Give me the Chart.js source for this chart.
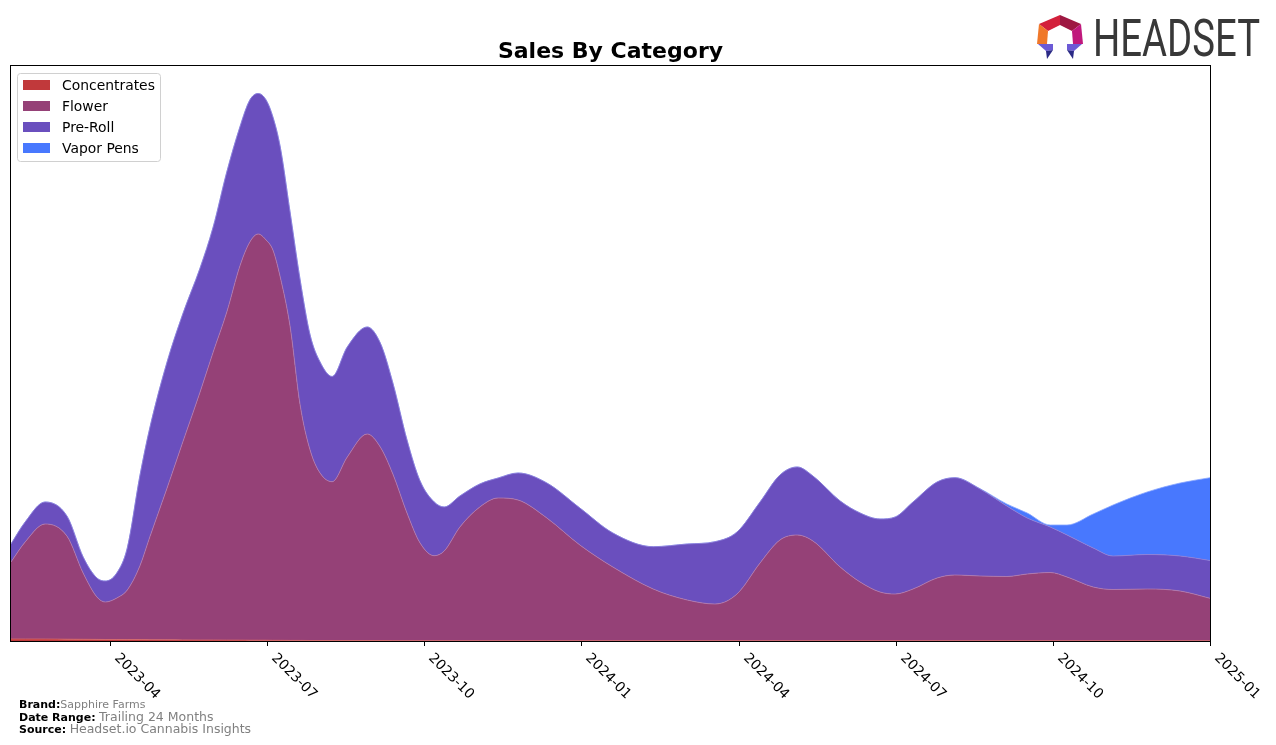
<!DOCTYPE html>
<html><head><meta charset="utf-8">
<script src="https://cdn.jsdelivr.net/npm/chart.js@4.4.1/dist/chart.umd.min.js"></script>
<style>
html,body{margin:0;padding:0;background:#fff;}
#wrap{position:relative;width:1276px;height:745px;overflow:hidden;font-family:"DejaVu Sans",sans-serif;}
#c{position:absolute;left:0;top:0;}
#title{position:absolute;left:11px;width:1199px;top:38px;text-align:center;font-weight:bold;font-size:22px;line-height:26px;color:#000;}
.foot{position:absolute;left:19px;font-size:11px;line-height:12px;color:#808080;white-space:nowrap;}
.foot b{color:#000;}
.big{font-size:12.5px;}
#logo{position:absolute;left:0;top:0;}
</style></head><body>
<div id="wrap">
<canvas id="c" width="1276" height="745"></canvas>
<div id="title">Sales By Category</div>
<div class="foot" style="top:699px"><b>Brand:</b>Sapphire Farms</div>
<div class="foot" style="top:711px"><b>Date Range:</b> <span class="big">Trailing 24 Months</span></div>
<div class="foot" style="top:723px"><b>Source:</b> <span class="big">Headset.io Cannabis Insights</span></div>
<svg id="logo" width="1276" height="70" viewBox="0 0 1276 70">
  <polygon points="1060,15 1060,25 1048,31 1039,24" fill="#d3203b"/>
  <polygon points="1060,15 1081,24 1072,31 1060,25" fill="#9e1842"/>
  <polygon points="1039,24 1048,31 1047,44 1037,44" fill="#f0782a"/>
  <polygon points="1081,24 1083,44 1073,44 1072,31" fill="#c0187c"/>
  <polygon points="1038,44 1053,44 1053,50 1046,51" fill="#6c5ad6"/>
  <polygon points="1046,51 1053,50 1047,59" fill="#2b2a86"/>
  <polygon points="1082,44 1067,44 1067,50 1074,51" fill="#6c5ad6"/>
  <polygon points="1074,51 1067,50 1073,59" fill="#2b2a86"/>
  <text x="1093" y="56" font-family="Roboto" font-weight="400" font-size="51" fill="#383838" textLength="167" lengthAdjust="spacingAndGlyphs">HEADSET</text>
</svg>
</div>
<script>
const categories = ['Concentrates', 'Flower', 'Pre-Roll', 'Vapor Pens'];
const colors = ['#c1393b', '#954177', '#6a4fbe', '#4878fe'];
const edgeColors = ['#d76a6a', '#b07ab0', '#8f7fd8', '#86a4ff'];
// x positions: months since 2023-01 (2023-04 = 3 ... 2025-01 = 24)
const months = [1.11,1.38,1.76,2.18,2.49,2.75,2.91,3.13,3.33,3.57,3.76,4.09,4.39,4.72,4.97,5.23,5.48,5.67,5.83,5.98,6.11,6.25,6.44,6.63,6.82,7.01,7.24,7.53,7.91,8.16,8.40,8.67,8.92,9.19,9.38,9.68,10.06,10.41,10.79,11.34,11.97,12.60,13.37,14.02,14.55,14.97,15.41,15.79,16.12,16.42,16.94,17.32,17.70,17.99,18.33,18.79,19.13,19.61,20.12,20.51,20.95,21.27,21.77,22.15,22.80,23.43,24.00];
const concentrates = [2,2,2,1.8,1.7,1.6,1.5,1.5,1.4,1.4,1.3,1.2,1.1,1,1,0.9,0.9,0.8,0.8,0.8,0.7,0.7,0.6,0.6,0.5,0.5,0.5,0.4,0.4,0.4,0.3,0.3,0.3,0.3,0.3,0.2,0.2,0.2,0.2,0.2,0.2,0.2,0.2,0.2,0.2,0.2,0.2,0.2,0.2,0.2,0.2,0.2,0.2,0.2,0.2,0.2,0.2,0.2,0.2,0.2,0.2,0.2,0.2,0.2,0.2,0.2,0.2];
const flower = [77,97,115,103,66,42.4,37.5,41.5,49.6,73.6,102.7,151.8,197.9,248,288,328.1,374.1,398.2,406.2,400.2,390.3,363.3,313.4,235.4,190.5,167.5,158.8,183.6,206.6,193.6,166.7,127.7,97.7,85,89.7,113.8,133.8,142.8,140.8,122.8,95.8,73.8,51.8,40.8,36.8,46.8,77.8,100.8,105.8,99.8,73.8,58.8,48.8,46.8,51.8,62.8,65.8,64.8,64.3,66.8,68.3,63.8,53.8,51.3,51.8,49.8,42.5];
const preRoll = [18,20,22,20,16,19,21,25,42,90,109,126,128,124,125,140,139,142,140.5,140,133,130,114,125,115,111,105.2,110,107,104,91,73,62,53.7,44,31,23,20,27,35,37,34,42.3,56,62.3,62,61,65,68,65,66,69,73,77,87,96,97.3,87,70.5,56,45.5,42,39,33.5,34.5,35,37.8];
const vaporPens = [0,0,0,0,0,0,0,0,0,0,0,0,0,0,0,0,0,0,0,0,0,0,0,0,0,0,0,0,0,0,0,0,0,0,0,0,0,0,0,0,0,0,0,0,0,0,0,0,0,0,0,0,0,0,0,0,0,0.3,2,5,2,10,34,51,62.5,73,82.8];
const tickMonths = [3,6,9,12,15,18,21,24];
const tickLabels = ['2023-04','2023-07','2023-10','2024-01','2024-04','2024-07','2024-10','2025-01'];
const xMin = 1.11, xMax = 24, yMax = 575;

const series = [concentrates, flower, preRoll, vaporPens];
const datasets = series.map((vals, i) => ({
  label: categories[i],
  data: vals.map((v, j) => ({x: months[j], y: v})),
  backgroundColor: colors[i],
  borderColor: edgeColors[i],
  borderWidth: 0.8,
  fill: i === 0 ? 'origin' : '-1',
  pointRadius: 0,
  cubicInterpolationMode: 'monotone'
}));

const overlay = {
  id: 'overlay',
  afterDraw(chart) {
    const {ctx, chartArea: a, scales: {x}} = chart;
    ctx.save();
    ctx.strokeStyle = '#000';
    ctx.lineWidth = 1;
    ctx.strokeRect(Math.round(a.left) - 0.5, Math.round(a.top) - 0.5, Math.round(a.right - a.left) + 1, Math.round(a.bottom - a.top) + 1);
    ctx.font = '13.9px "DejaVu Sans"';
    ctx.fillStyle = '#000';
    tickMonths.forEach((m, i) => {
      const px = Math.round(x.getPixelForValue(m)) + 0.5;
      ctx.beginPath();
      ctx.moveTo(px, a.bottom);
      ctx.lineTo(px, a.bottom + 5);
      ctx.stroke();
      ctx.save();
      ctx.translate(px + 11, a.bottom + 10);
      ctx.rotate(Math.PI / 4);
      ctx.textAlign = 'left';
      ctx.textBaseline = 'top';
      ctx.fillText(tickLabels[i], 0, 0);
      ctx.restore();
    });
    // legend
    const lx = 17.5, ly = 73.5, lw = 143, lh = 88, r = 3;
    ctx.beginPath();
    ctx.moveTo(lx + r, ly);
    ctx.arcTo(lx + lw, ly, lx + lw, ly + lh, r);
    ctx.arcTo(lx + lw, ly + lh, lx, ly + lh, r);
    ctx.arcTo(lx, ly + lh, lx, ly, r);
    ctx.arcTo(lx, ly, lx + lw, ly, r);
    ctx.closePath();
    ctx.fillStyle = 'rgba(255,255,255,0.8)';
    ctx.fill();
    ctx.strokeStyle = '#d0d0d0';
    ctx.stroke();
    ctx.textBaseline = 'middle';
    ctx.textAlign = 'left';
    categories.forEach((c, i) => {
      const cy = 85 + i * 21;
      ctx.fillStyle = colors[i];
      ctx.fillRect(23, cy - 5, 27, 10);
      ctx.fillStyle = '#000';
      ctx.fillText(c, 62, cy + 1.5);
    });
    ctx.restore();
  }
};

new Chart(document.getElementById('c'), {
  type: 'line',
  data: {datasets},
  options: {
    responsive: false,
    animation: false,
    events: [],
    layout: {padding: {left: 11, right: 66, top: 66, bottom: 104}},
    plugins: {legend: {display: false}, title: {display: false}, tooltip: {enabled: false}},
    scales: {
      x: {type: 'linear', min: xMin, max: xMax, display: false},
      y: {stacked: true, min: 0, max: yMax, display: false}
    }
  },
  plugins: [overlay]
});
</script>
</body></html>
